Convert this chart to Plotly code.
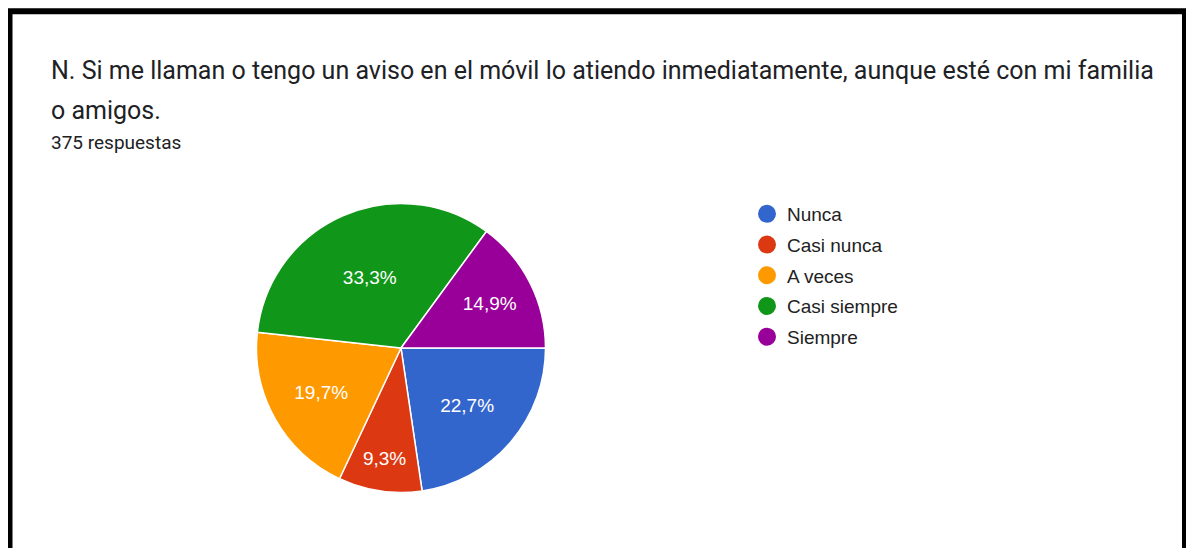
import plotly.graph_objects as go

categories = ["Nunca", "Casi nunca", "A veces", "Casi siempre", "Siempre"]
counts = [85, 35, 74, 125, 56]
colors = ["#3366cc", "#dc3912", "#ff9900", "#109618", "#990099"]
title_line1 = "N. Si me llaman o tengo un aviso en el móvil lo atiendo inmediatamente, aunque esté con mi familia"
title_line2 = "o amigos."
subtitle = "375 respuestas"

# page has 8px body margin; figure fills the remaining window
OFF = 8
FW, FH = 1194 - 2 * OFF, 548 - OFF
def px(x):
    return (x - OFF) / FW
def py(y):
    return 1 - (y - OFF) / FH

cx, cy, r = 401, 348, 144.5

fig = go.Figure()
fig.add_trace(go.Pie(
    labels=categories, values=counts, sort=False, direction="clockwise", rotation=90,
    marker=dict(colors=colors, line=dict(color="white", width=1.5)),
    texttemplate="%{percent:.1%}", textposition="inside", insidetextorientation="horizontal",
    textfont=dict(family="Liberation Sans, Arial", size=19, color="white"),
    showlegend=False, hoverinfo="label+percent",
    domain=dict(x=[px(cx - r), px(cx + r)], y=[py(cy + r), py(cy - r)]),
))
for i, (name, col) in enumerate(zip(categories, colors)):
    fig.add_trace(go.Scatter(
        x=[None], y=[None], mode="markers", name=name, legendgroup=name,
        marker=dict(color=col, size=16, symbol="circle", line=dict(color=col, width=2)),
    ))

fig.update_layout(
    width=FW, height=FH, margin=dict(l=0, r=0, t=0, b=0),
    paper_bgcolor="white", plot_bgcolor="white",
    separators=",.",
    xaxis=dict(visible=False), yaxis=dict(visible=False),
    legend=dict(x=px(747), y=py(195), xanchor="left", yanchor="top",
                font=dict(family="Liberation Sans, Arial", size=19, color="#222222"),
                tracegroupgap=3, itemsizing="trace", bgcolor="rgba(0,0,0,0)"),
    annotations=[
        dict(text=title_line1, x=px(49), y=py(54), xref="paper", yref="paper",
             xanchor="left", yanchor="top", showarrow=False,
             font=dict(family="Roboto", size=25, color="#202124")),
        dict(text=title_line2, x=px(49), y=py(94), xref="paper", yref="paper",
             xanchor="left", yanchor="top", showarrow=False,
             font=dict(family="Roboto", size=25, color="#202124")),
        dict(text=subtitle, x=px(49), y=py(129), xref="paper", yref="paper",
             xanchor="left", yanchor="top", showarrow=False,
             font=dict(family="Roboto", size=19, color="#202124")),
    ],
    shapes=[
        dict(type="rect", xref="paper", yref="paper",
             x0=px(9.5), x1=px(1185), y0=py(11.3), y1=py(560),
             line=dict(color="black", width=6)),
    ],
)
fig.write_html("out.html")
